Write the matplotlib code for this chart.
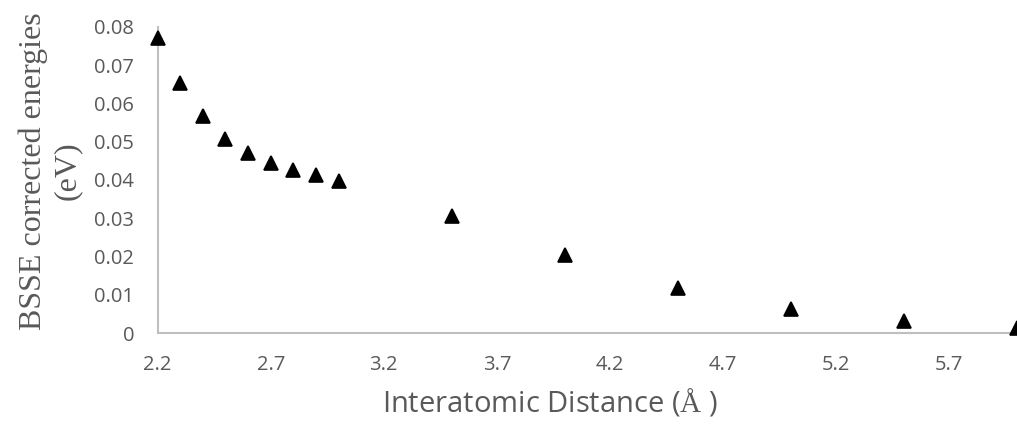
import matplotlib
matplotlib.use("Agg")
import matplotlib.pyplot as plt

# interatomic distance (angstrom) and BSSE corrected energies (eV)
distance = [2.2, 2.3, 2.4, 2.5, 2.6, 2.7, 2.8, 2.9, 3.0, 3.5, 4.0, 4.5, 5.0, 5.5, 6.0]
energy = [0.0770, 0.0653, 0.0567, 0.0508, 0.0470, 0.0444, 0.0426, 0.0413, 0.0398,
          0.0306, 0.0204, 0.0118, 0.0062, 0.0032, 0.0013]
x_ticks = [2.2, 2.7, 3.2, 3.7, 4.2, 4.7, 5.2, 5.7]
y_ticks = [0, 0.01, 0.02, 0.03, 0.04, 0.05, 0.06, 0.07, 0.08]

plt.rcParams['mathtext.fontset'] = 'custom'
plt.rcParams['mathtext.rm'] = 'Liberation Serif'

grey = '#595959'
axis_grey = '#BFBFBF'

fig = plt.figure(figsize=(10.17, 4.26), dpi=100)
ax = fig.add_axes([0.155, 0.218, 0.845, 0.719])

ax.plot(distance, energy, linestyle='none', marker='^', markersize=10.5,
        color='black', markeredgewidth=1.2, markeredgecolor='black',
        clip_on=False, zorder=3)

ax.set_xlim(2.2, 6.0)
ax.set_ylim(0, 0.08)
ax.set_xticks(x_ticks)
ax.set_xticklabels([str(t) for t in x_ticks])
ax.set_yticks(y_ticks)
ax.set_yticklabels(['0'] + ['%.2f' % t for t in y_ticks[1:]])

for side in ['top', 'right']:
    ax.spines[side].set_visible(False)
for side in ['left', 'bottom']:
    ax.spines[side].set_color(axis_grey)
    ax.spines[side].set_linewidth(1.5)

ax.tick_params(axis='both', length=0, labelsize=14.5, labelcolor=grey)
ax.tick_params(axis='x', pad=16)
ax.tick_params(axis='y', pad=17)
for label in ax.get_xticklabels() + ax.get_yticklabels():
    label.set_family('Open Sans')

ax.set_xlabel(r'Interatomic Distance ($\mathrm{\AA}$ )', fontsize=21, color=grey,
              family='Open Sans')
ax.xaxis.set_label_coords(0.456, -0.175)
ax.set_ylabel('BSSE corrected energies\n(eV)', fontsize=23, color=grey,
              family='Liberation Serif', linespacing=1.25)
ax.yaxis.set_label_coords(-0.088, 0.53)

fig.savefig('out.png', dpi=100)
